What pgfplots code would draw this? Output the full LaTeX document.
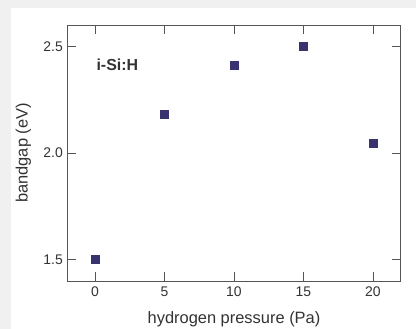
\documentclass[border=0pt]{standalone}
\usepackage{pgfplots}
\pgfplotsset{compat=1.18}
\usepackage{fontspec}
\setmainfont{Liberation Sans}
\definecolor{bgray}{HTML}{F0F0F0}
\definecolor{mk}{HTML}{38336F}
\definecolor{ax}{HTML}{555555}
\definecolor{txt}{HTML}{333333}
\begin{document}
\begin{tikzpicture}[x=1bp,y=1bp]
\useasboundingbox (0,0) rectangle (416,329);
\fill[bgray] (0,0) rectangle (416,329);
\fill[white] (11,0) rectangle (416,321);
\begin{axis}[
  at={(67.3bp,48bp)}, anchor=south west,
  scale only axis, width=333.4bp, height=256bp,
  xmin=-2, xmax=22, ymin=1.4, ymax=2.6,
  xtick={0,5,10,15,20}, ytick={1.5,2.0,2.5},
  yticklabel style={/pgf/number format/fixed,/pgf/number format/fixed zerofill,/pgf/number format/precision=1, xshift=-1bp},
  /pgf/number format/assume math mode=true,
  tick align=inside, major tick length=9bp,
  tick style={ax, line width=0.8bp},
  axis line style={ax, line width=0.8bp},
  ticklabel style={font=\fontsize{14}{16}\selectfont, text=txt},
  label style={font=\fontsize{16.5}{19}\selectfont, text=txt},
  xlabel={hydrogen pressure (Pa)},
  ylabel={bandgap (eV)},
  xlabel style={at={(axis description cs:0.5,0)}, anchor=base, yshift=-42bp},
  ylabel style={at={(axis description cs:0,0.5)}, anchor=center, yshift=44bp},
  xticklabel style={yshift=-2bp},
]
\addplot[only marks, mark=square*, mark size=4bp, mark options={draw=mk, fill=mk}]
coordinates {(0,1.5) (5,2.18) (10,2.41) (15,2.5) (20,2.048)};
\node[anchor=west, font=\bfseries\fontsize{16}{19}\selectfont, text=txt] at (axis cs:-0.15,2.415) {i-Si:H};
\end{axis}
\end{tikzpicture}
\end{document}
